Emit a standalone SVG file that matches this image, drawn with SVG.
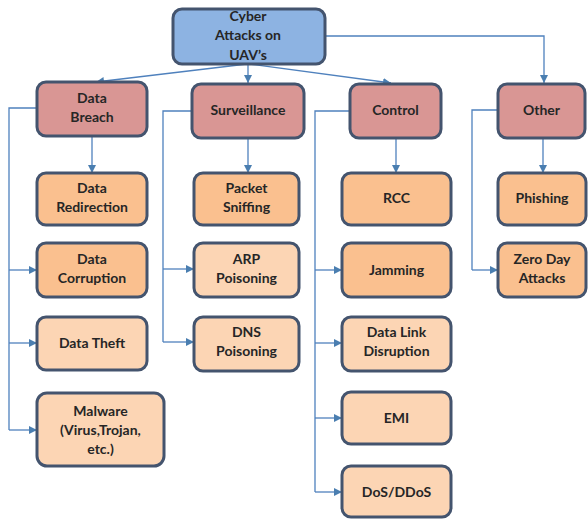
<svg xmlns="http://www.w3.org/2000/svg" width="588" height="520" viewBox="0 0 588 520">
<defs>
<marker id="ah" viewBox="0 0 10 10" refX="10" refY="5" markerWidth="8" markerHeight="8" markerUnits="userSpaceOnUse" orient="auto">
<path d="M0,0 L10,5 L0,10 z" fill="#4A7EB0"/>
</marker>
<style>
.box{stroke:#44546E;stroke-width:3}
.root{fill:#8DB3E2}
.l1{fill:#D99694}
.dk{fill:#FAC08F}
.lt{fill:#FCD5B4}
text{font-family:Lato,"Open Sans","Liberation Sans",sans-serif;font-weight:bold;font-size:14px;text-anchor:middle;fill:#262626}
.c{fill:none;stroke:#4F81BD;stroke-width:1.3}
.a{marker-end:url(#ah)}
</style>
</defs>
<rect width="588" height="520" fill="#ffffff"/>
<g id="connectors">
<path class="c a" d="M247,64 L96,82"/>
<path class="c a" d="M248,64 L248,83"/>
<path class="c a" d="M249,64 L391,83"/>
<path class="c a" d="M325,36 L544,36 L544,83"/>
<path class="c a" d="M92,136 L92,173"/>
<path class="c a" d="M248,139 L248,173"/>
<path class="c a" d="M396,139 L396,173"/>
<path class="c a" d="M543,139 L543,173"/>
<path class="c" d="M37,108 L9,108 L9,430"/>
<path class="c a" d="M9,270 L37,270"/>
<path class="c a" d="M9,343 L37,343"/>
<path class="c a" d="M9,430 L37,430"/>
<path class="c" d="M192,111 L163,111 L163,342"/>
<path class="c a" d="M163,269 L194,269"/>
<path class="c a" d="M163,342 L194,342"/>
<path class="c" d="M350,111 L315,111 L315,492"/>
<path class="c a" d="M315,270 L342,270"/>
<path class="c a" d="M315,343 L342,343"/>
<path class="c a" d="M315,418 L342,418"/>
<path class="c a" d="M315,492 L342,492"/>
<path class="c" d="M498,110 L472,110 L472,270"/>
<path class="c a" d="M472,270 L498,270"/>
</g>
<g id="root"><rect class="box root" x="173" y="9" width="152" height="55" rx="9"/>
<text x="248" y="21">Cyber</text><text x="248" y="40">Attacks on</text><text x="248" y="60">UAV’s</text></g>
<g id="data-breach"><rect class="box l1" x="37" y="82" width="110" height="54" rx="9"/>
<text x="92" y="103">Data</text><text x="92" y="122">Breach</text></g>
<g id="surveillance"><rect class="box l1" x="192" y="84" width="112" height="54" rx="9"/>
<text x="248" y="115">Surveillance</text></g>
<g id="control"><rect class="box l1" x="350" y="84" width="91" height="54" rx="9"/>
<text x="395.5" y="115">Control</text></g>
<g id="other"><rect class="box l1" x="498" y="84" width="87" height="54" rx="9"/>
<text x="541.5" y="115">Other</text></g>
<g id="data-redirection"><rect class="box dk" x="37" y="173" width="110" height="52" rx="9"/>
<text x="92" y="193">Data</text><text x="92" y="212">Redirection</text></g>
<g id="data-corruption"><rect class="box dk" x="37" y="243" width="110" height="54" rx="9"/>
<text x="92" y="264">Data</text><text x="92" y="283">Corruption</text></g>
<g id="data-theft"><rect class="box lt" x="37" y="317" width="110" height="53" rx="9"/>
<text x="92" y="348">Data Theft</text></g>
<g id="malware"><rect class="box lt" x="37" y="393" width="127" height="73" rx="10"/>
<text x="100.5" y="416">Malware</text><text x="100.5" y="435">(Virus,Trojan,</text><text x="100.5" y="454">etc.)</text></g>
<g id="packet-sniffing"><rect class="box dk" x="194" y="173" width="105" height="52" rx="9"/>
<text x="246.5" y="193">Packet</text><text x="246.5" y="212">Sniffing</text></g>
<g id="arp-poisoning"><rect class="box lt" x="194" y="243" width="105" height="54" rx="9"/>
<text x="246.5" y="264">ARP</text><text x="246.5" y="283">Poisoning</text></g>
<g id="dns-poisoning"><rect class="box lt" x="194" y="317" width="105" height="54" rx="9"/>
<text x="246.5" y="337">DNS</text><text x="246.5" y="356">Poisoning</text></g>
<g id="rcc"><rect class="box dk" x="342" y="173" width="109" height="52" rx="9"/>
<text x="396.5" y="203">RCC</text></g>
<g id="jamming"><rect class="box dk" x="342" y="243" width="109" height="54" rx="9"/>
<text x="396.5" y="275">Jamming</text></g>
<g id="data-link-disruption"><rect class="box lt" x="342" y="317" width="109" height="54" rx="9"/>
<text x="396.5" y="337">Data Link</text><text x="396.5" y="356">Disruption</text></g>
<g id="emi"><rect class="box lt" x="342" y="392" width="109" height="52" rx="9"/>
<text x="396.5" y="423">EMI</text></g>
<g id="dos-ddos"><rect class="box lt" x="342" y="466" width="109" height="51" rx="9"/>
<text x="396.5" y="497">DoS/DDoS</text></g>
<g id="phishing"><rect class="box dk" x="498" y="173" width="88" height="52" rx="9"/>
<text x="542" y="203">Phishing</text></g>
<g id="zero-day-attacks"><rect class="box dk" x="498" y="243" width="88" height="54" rx="9"/>
<text x="542" y="264">Zero Day</text><text x="542" y="283">Attacks</text></g>
</svg>
